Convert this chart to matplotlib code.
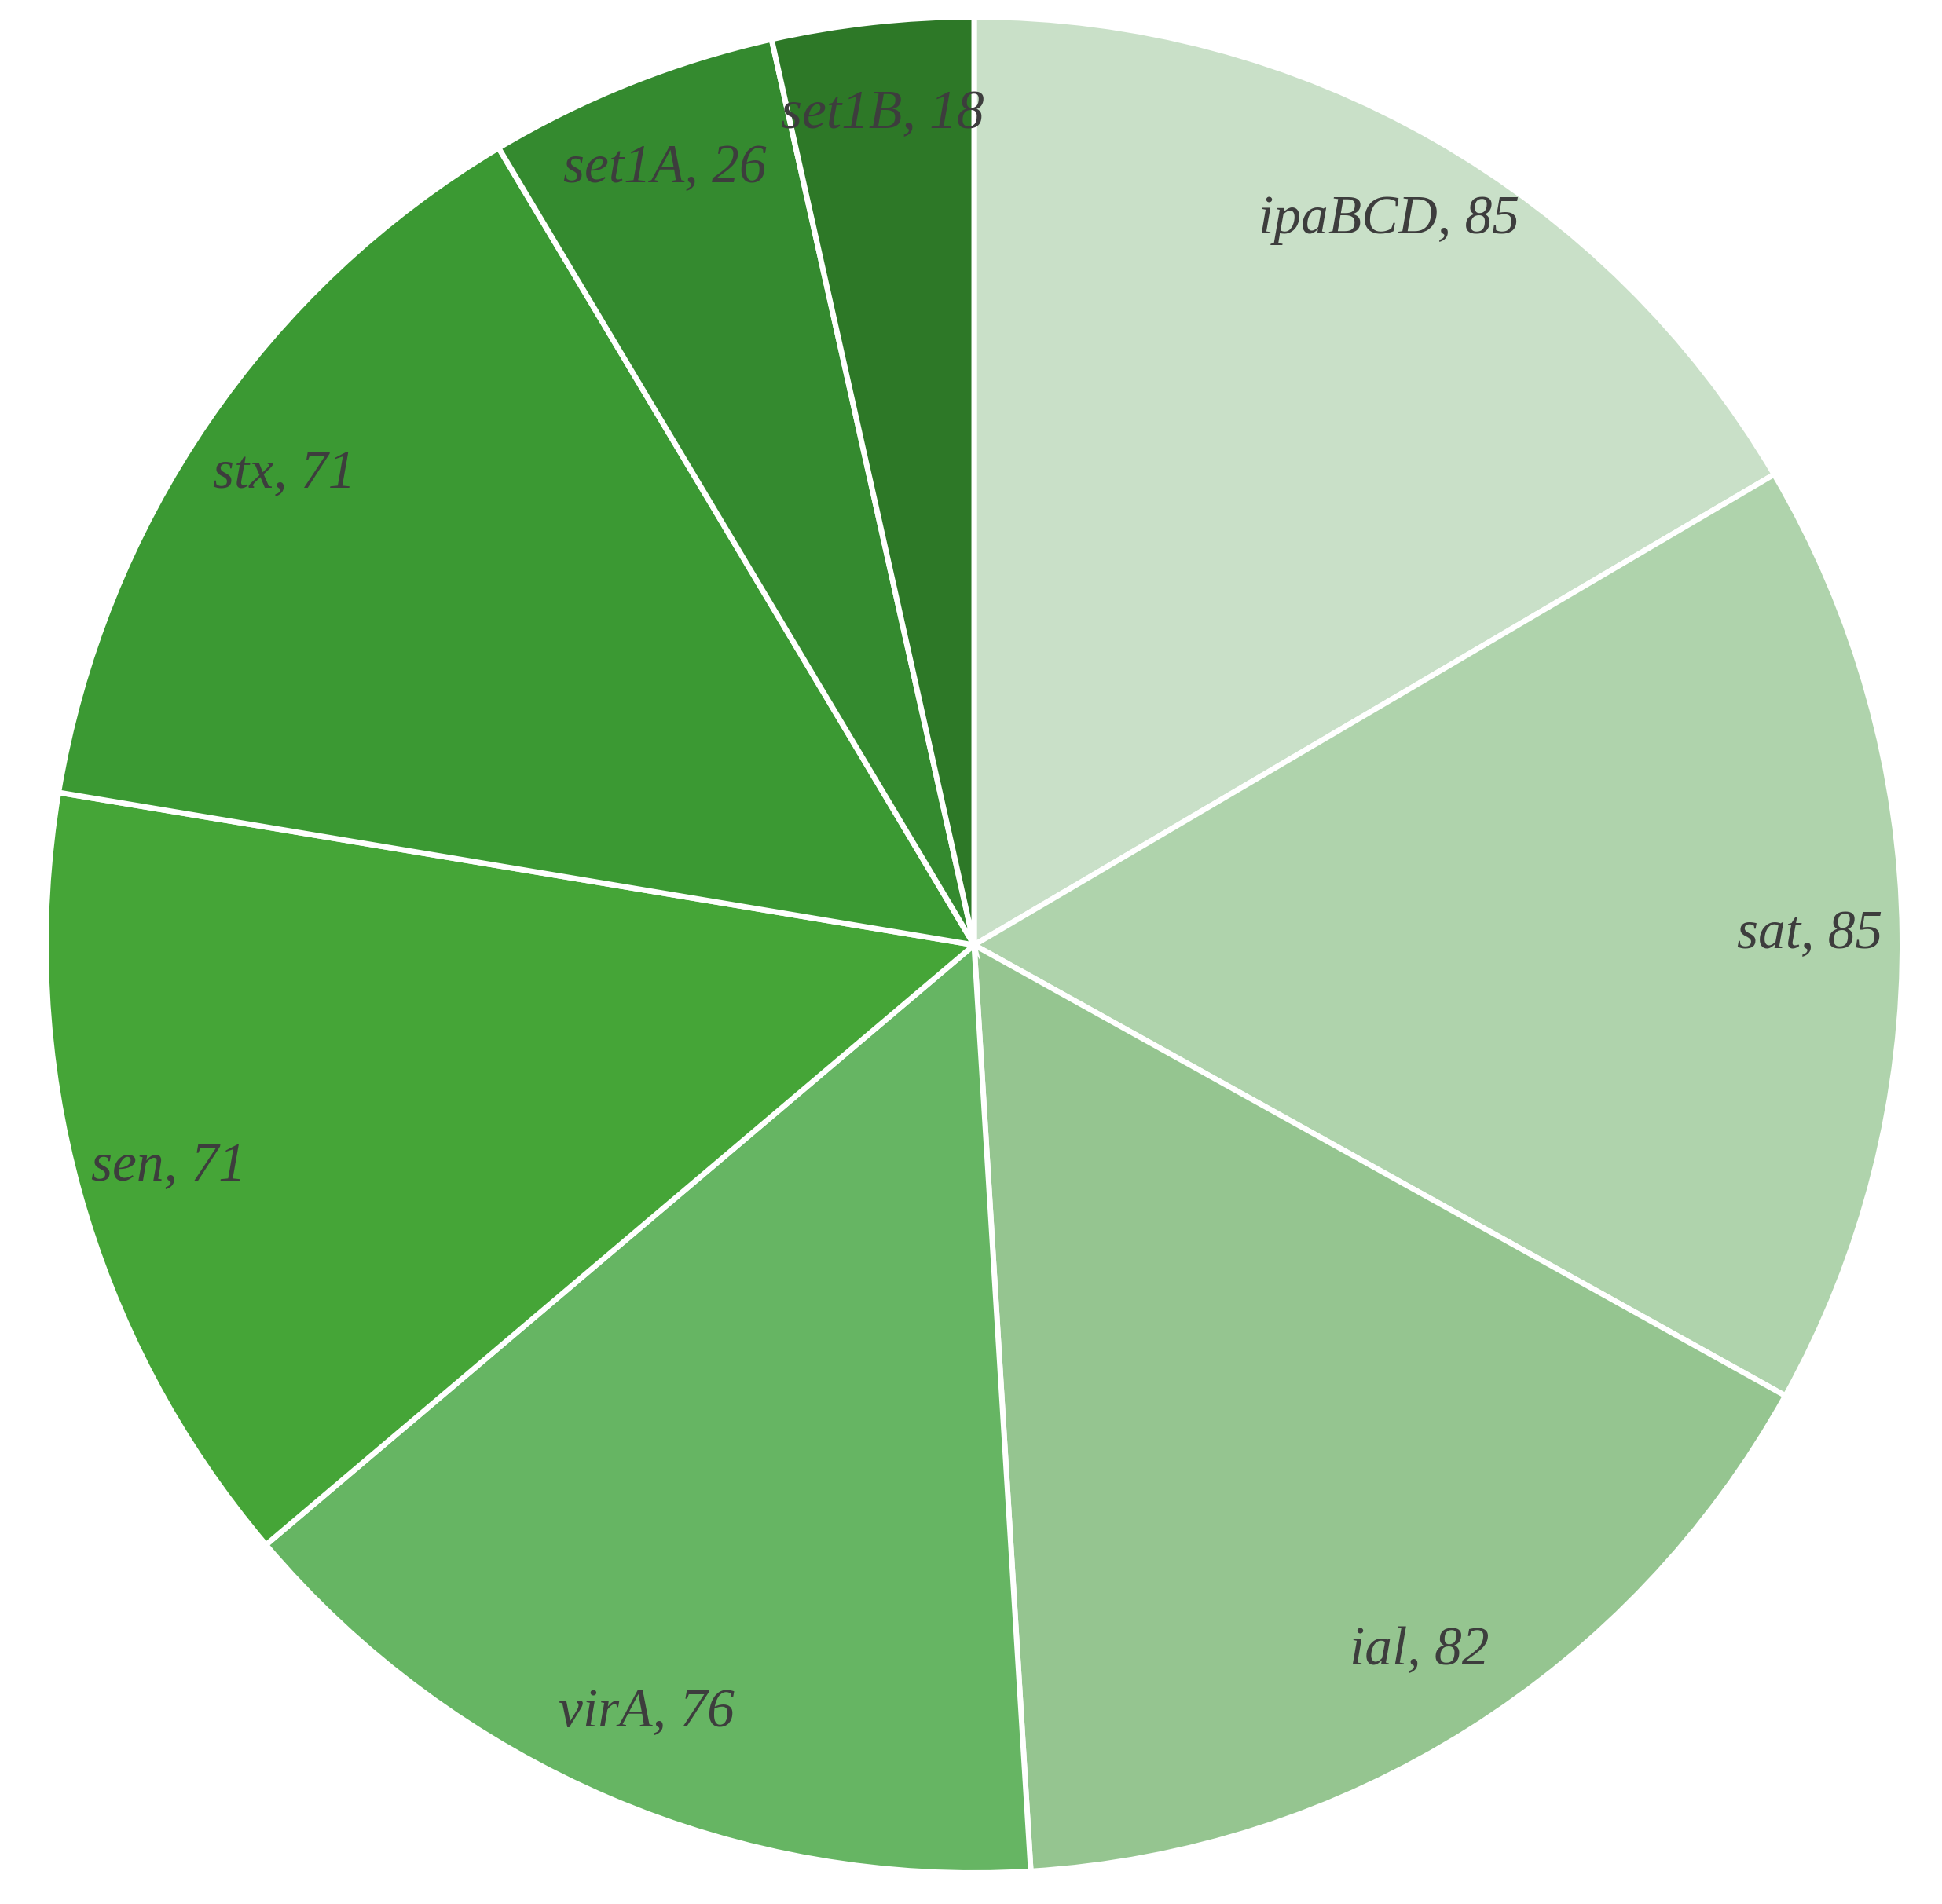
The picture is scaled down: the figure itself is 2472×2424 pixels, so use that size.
import matplotlib.pyplot as plt

genes = ['ipaBCD', 'sat', 'ial', 'virA', 'sen', 'stx', 'set1A', 'set1B']
counts = [85, 85, 82, 76, 71, 71, 26, 18]
colors = ['#c9e0c8', '#afd3ac', '#95c590', '#66b563', '#45a537',
          '#3b9933', '#348a2f', '#2d7827']

labels = ['%s, %d' % (g, c) for g, c in zip(genes, counts)]

fig = plt.figure(figsize=(24.72, 24.24), dpi=100)
ax = fig.add_axes([55 / 2472, 36 / 2424, 2370 / 2472, 2370 / 2424])

wedges, texts = ax.pie(counts, labels=labels, colors=colors, startangle=90,
                       counterclock=False, labeldistance=0.9,
                       wedgeprops=dict(edgecolor='white', linewidth=5))
for t in texts:
    t.set_ha('center')
    t.set_va('center')
    t.set_fontfamily('Liberation Serif')
    t.set_fontstyle('italic')
    t.set_fontsize(50)
    t.set_color('#3d3d3d')

ax.set_xlim(-1.003, 1.003)
ax.set_ylim(-1.003, 1.003)
ax.set_aspect('equal')
fig.savefig('out.png', dpi=100)
